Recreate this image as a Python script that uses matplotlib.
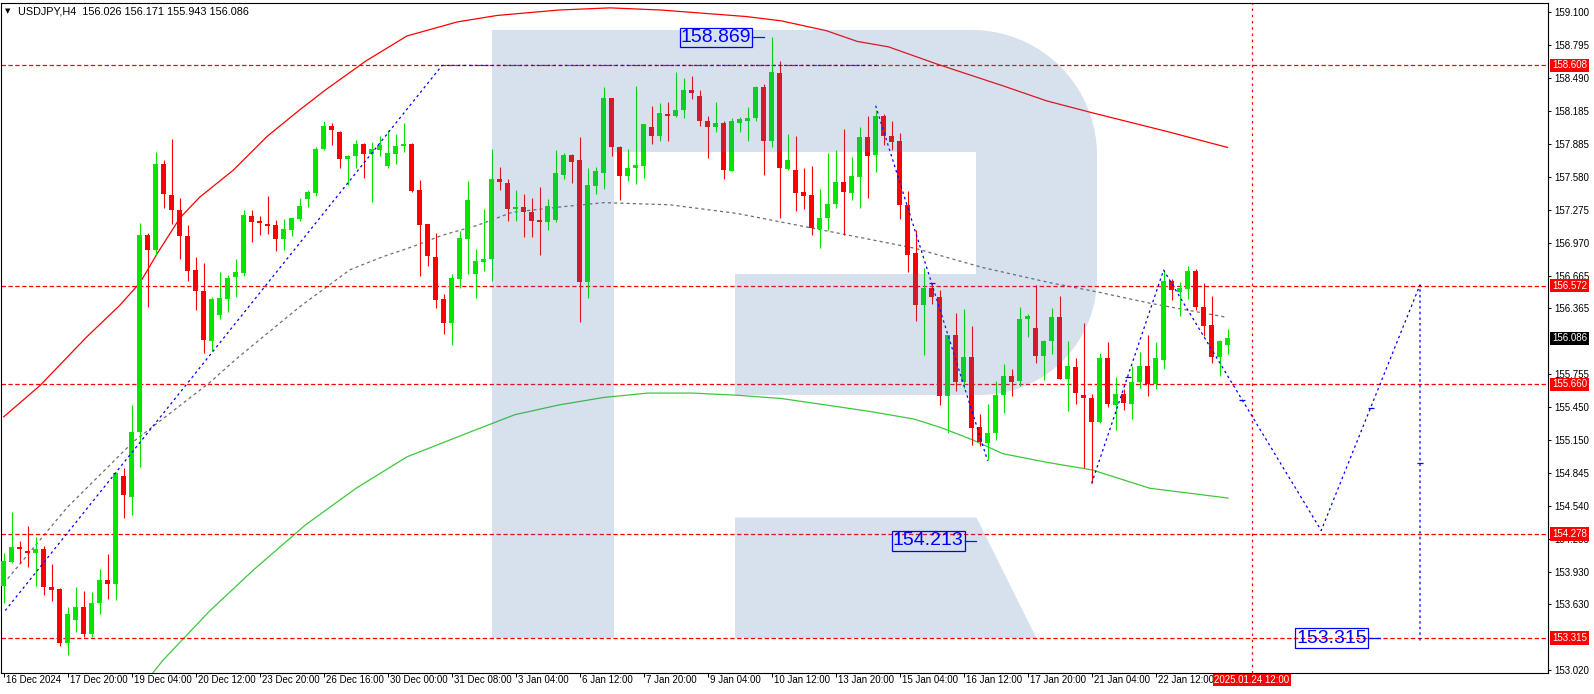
import numpy as np
import matplotlib
matplotlib.use('Agg')
import matplotlib.pyplot as plt
from matplotlib import font_manager
from matplotlib.patches import Polygon

plt.rcParams['font.family'] = ['Liberation Sans', 'DejaVu Sans']

# USDJPY H4 bars, first bar 16 Dec 2024 12:00, last bar 24 Jan 2025 00:00
opens = [153.80, 154.02, 154.16, 154.12, 154.10, 154.14, 153.79, 153.77, 153.27, 153.48,
         153.60, 153.35, 153.64, 153.85, 153.82, 154.81, 154.62, 155.22, 157.04, 156.90,
         157.70, 157.41, 157.27, 157.03, 156.72, 156.52, 156.06, 156.30, 156.45, 156.65,
         156.69, 157.22, 157.17, 157.14, 157.13, 157.00, 157.09, 157.19, 157.37, 157.43,
         157.84, 158.05, 157.99, 157.74, 157.77, 157.88, 157.79, 157.83, 157.68, 157.79,
         157.86, 157.88, 157.455, 157.14, 156.84, 156.45, 156.23, 156.63, 157.00, 156.68,
         156.79, 156.82, 157.56, 157.52, 157.28, 157.30, 157.25, 157.18, 157.16, 157.18,
         157.60, 157.78, 157.73, 156.61, 157.49, 157.61, 158.31, 157.85, 157.59, 157.66,
         157.68, 158.04, 157.96, 158.16, 158.14, 158.20, 158.38, 158.33, 158.09, 158.04,
         158.08, 157.63, 158.08, 158.09, 158.12, 158.41, 157.91, 158.54, 157.65, 157.64,
         157.44, 157.41, 157.10, 157.20, 157.33, 157.53, 157.43, 157.58, 157.95, 157.78,
         158.14, 157.96, 157.91, 157.32, 156.87, 156.39, 156.55, 156.47, 155.55, 156.12,
         155.68, 155.91, 155.27, 155.12, 155.21, 155.56, 155.74, 155.69, 156.26, 156.18,
         155.92, 156.06, 156.28, 155.71, 155.82, 155.56, 155.53, 155.31, 155.90, 155.47,
         155.57, 155.48, 155.68, 155.83, 155.66, 155.89, 156.62, 156.51, 156.54, 156.71,
         156.38, 156.21, 155.91, 156.026]
highs = [154.10, 154.48, 154.21, 154.35, 154.25, 154.17, 154.00, 153.78, 153.60, 153.79,
         153.75, 153.74, 153.95, 154.09, 154.85, 154.89, 155.47, 157.15, 157.06, 157.81,
         157.73, 157.93, 157.38, 157.13, 156.84, 156.78, 156.47, 156.70, 156.67, 156.82,
         157.27, 157.27, 157.22, 157.40, 157.18, 157.19, 157.20, 157.38, 157.46, 157.85,
         158.09, 158.08, 158.00, 157.78, 157.92, 157.89, 157.90, 157.96, 158.01, 157.97,
         158.08, 157.89, 157.55, 157.14, 157.06, 156.50, 156.68, 157.08, 157.54, 156.91,
         157.28, 157.84, 157.67, 157.56, 157.46, 157.42, 157.38, 157.48, 157.37, 157.83,
         157.80, 157.79, 157.95, 157.66, 157.67, 158.41, 158.31, 157.86, 157.84, 158.42,
         158.07, 158.23, 158.26, 158.27, 158.55, 158.49, 158.51, 158.38, 158.14, 158.27,
         158.09, 158.12, 158.13, 158.22, 158.42, 158.44, 158.869, 158.65, 157.97, 157.96,
         157.66, 157.68, 157.47, 157.80, 157.83, 158.02, 157.76, 158.04, 158.14, 158.20,
         158.16, 158.09, 157.98, 157.45, 157.09, 156.74, 156.60, 156.53, 156.12, 156.32,
         156.36, 156.20, 155.39, 155.48, 155.69, 155.85, 155.80, 156.38, 156.31, 156.58,
         156.07, 156.37, 156.48, 156.06, 155.90, 156.23, 155.57, 155.95, 156.05, 155.73,
         155.62, 155.83, 155.96, 156.12, 156.05, 156.72, 156.63, 156.61, 156.75, 156.73,
         156.60, 156.48, 156.07, 156.171]
lows = [153.64, 154.01, 154.01, 153.97, 153.80, 153.71, 153.66, 153.24, 153.16, 153.37,
        153.33, 153.33, 153.54, 153.68, 153.67, 154.43, 154.45, 154.90, 156.38, 156.86,
        157.29, 157.14, 156.82, 156.62, 156.35, 155.95, 155.97, 156.26, 156.33, 156.47,
        156.66, 156.98, 157.04, 157.05, 156.89, 156.90, 157.03, 157.17, 157.30, 157.40,
        157.83, 157.87, 157.66, 157.50, 157.66, 157.57, 157.35, 157.77, 157.66, 157.70,
        157.81, 157.44, 156.66, 156.75, 156.37, 156.13, 156.02, 156.55, 156.68, 156.46,
        156.71, 156.62, 157.46, 157.17, 157.17, 157.02, 157.02, 156.86, 157.09, 157.16,
        157.56, 157.52, 156.24, 156.46, 157.42, 157.47, 157.77, 157.36, 157.54, 157.51,
        157.57, 157.88, 157.91, 157.91, 158.13, 158.12, 158.30, 158.05, 157.75, 157.99,
        157.56, 157.63, 157.99, 157.91, 158.09, 157.60, 157.85, 157.20, 157.64, 157.26,
        157.28, 157.04, 156.92, 157.09, 157.29, 157.04, 157.36, 157.29, 157.38, 157.62,
        157.87, 157.83, 157.19, 156.70, 156.25, 155.93, 156.40, 155.47, 155.21, 155.60,
        155.63, 155.10, 155.09, 154.96, 155.15, 155.40, 155.55, 155.65, 156.10, 155.86,
        155.70, 155.94, 155.71, 155.41, 155.48, 154.89, 154.745, 155.30, 155.45, 155.24,
        155.42, 155.34, 155.63, 155.55, 155.62, 155.80, 156.44, 156.29, 156.45, 156.35,
        156.11, 155.86, 155.74, 155.943]
closes = [154.03, 154.16, 154.14, 154.10, 154.14, 153.79, 153.76, 153.27, 153.54, 153.60,
          153.35, 153.64, 153.85, 153.82, 154.84, 154.64, 155.22, 157.04, 156.90, 157.70,
          157.42, 157.27, 157.03, 156.71, 156.52, 156.07, 156.45, 156.46, 156.64, 156.70,
          157.23, 157.16, 157.155, 157.127, 157.00, 157.10, 157.20, 157.31, 157.44, 157.84,
          158.05, 158.01, 157.74, 157.77, 157.88, 157.79, 157.84, 157.87, 157.80, 157.86,
          157.88, 157.45, 157.13, 156.85, 156.44, 156.23, 156.64, 157.01, 157.36, 156.80,
          156.82, 157.56, 157.53, 157.28, 157.30, 157.25, 157.17, 157.16, 157.31, 157.61,
          157.78, 157.72, 156.61, 157.50, 157.63, 158.31, 157.85, 157.59, 157.66, 157.69,
          158.07, 157.96, 158.17, 158.14, 158.20, 158.38, 158.35, 158.09, 158.04, 158.08,
          157.64, 158.09, 158.11, 158.12, 158.41, 157.91, 158.55, 157.66, 157.73, 157.43,
          157.40, 157.11, 157.20, 157.33, 157.53, 157.44, 157.59, 157.95, 157.77, 158.14,
          157.96, 157.90, 157.32, 156.86, 156.39, 156.55, 156.47, 155.55, 156.12, 155.68,
          155.91, 155.26, 155.13, 155.21, 155.56, 155.74, 155.68, 156.26, 156.29, 155.92,
          156.06, 156.28, 155.71, 155.83, 155.58, 155.53, 155.31, 155.90, 155.48, 155.57,
          155.49, 155.68, 155.83, 155.66, 155.90, 156.62, 156.53, 156.55, 156.71, 156.38,
          156.20, 155.91, 156.06, 156.086]

# one time label every 8 bars
date_labels = ['16 Dec 2024', '17 Dec 20:00', '19 Dec 04:00', '20 Dec 12:00', '23 Dec 20:00',
               '26 Dec 16:00', '30 Dec 00:00', '31 Dec 08:00', '3 Jan 04:00', '6 Jan 12:00',
               '7 Jan 20:00', '9 Jan 04:00', '10 Jan 12:00', '13 Jan 20:00', '15 Jan 04:00',
               '16 Jan 12:00', '17 Jan 20:00', '21 Jan 04:00', '22 Jan 12:00']

# envelope / moving average lines (bar index, price)
red_i = [0, 4.55, 10.4, 14.5, 17.05, 19.2, 22.05, 24.5, 28.7, 32.9, 37.05, 40.2, 45.3, 50.4, 56.7,
         61.7, 69.4, 75.8, 82.2, 92.8, 97.2, 102.8, 106.7, 110.6, 116.7, 124.9, 130.4, 136.1, 145.3, 153]
red_p = [155.36, 155.65, 156.10, 156.39, 156.60, 156.87, 157.20, 157.39, 157.64, 157.95, 158.20, 158.38,
         158.65, 158.88, 159.01, 159.07, 159.12, 159.14, 159.12, 159.06, 159.02, 158.93, 158.83, 158.78,
         158.62, 158.42, 158.28, 158.17, 158.00, 157.85]
gray_i = [0, 7.9, 16.2, 25.8, 29.3, 37.05, 43.3, 47.4, 51.0, 54.9, 59.2, 63.55, 69.55, 75.05, 83.3,
          91.7, 102.8, 113.8, 122.4, 130.8, 137.05, 143.3, 152.9]
gray_p = [153.82, 154.52, 155.13, 155.68, 155.91, 156.38, 156.72, 156.84, 156.93, 157.04, 157.13,
          157.25, 157.30, 157.34, 157.32, 157.24, 157.08, 156.92, 156.74, 156.60, 156.51, 156.41, 156.28]
green_i = [18.4, 19.9, 25.8, 31.3, 37.7, 44.05, 50.4, 58.3, 63.9, 69.4, 75.05, 80.55, 86.05, 91.7,
           97.2, 102.8, 108.3, 113.8, 117.2, 121.05, 124.9, 130.4, 136.05, 143.3, 153.05]
green_p = [152.97, 153.11, 153.57, 153.95, 154.36, 154.70, 154.99, 155.22, 155.38, 155.47, 155.54,
           155.58, 155.58, 155.56, 155.53, 155.47, 155.41, 155.34, 155.26, 155.15, 155.02, 154.94,
           154.87, 154.70, 154.61]

# blue trend line and wave forecast
trend_i = [0.2, 54.8, 109.4]
trend_p = [153.57, 158.608, 158.608]
wave1_i = [109, 123]
wave1_p = [158.236, 154.955]
wave2_i = [136, 145, 164.7, 177.05, 177.05]
wave2_p = [154.745, 156.717, 154.31, 156.58, 153.28]

levels = [158.608, 156.572, 155.660, 154.278, 153.315]
price_ticks = [159.100, 158.795, 158.490, 158.185, 157.885, 157.580, 157.275, 156.970, 156.665,
               156.365, 155.755, 155.450, 155.150, 154.845, 154.540, 154.235, 153.930,
               153.630, 153.020]
ann_price = [158.869, 154.213, 153.315]
ann_end = [95.05, 121.6, 172.0]
vline_i = 156
vline_label = '2025.01.24 12:00'

GREEN = '#00e600'
RED = '#ff0000'
BLUE = '#0000ff'

W, H = 1594, 694
X0, X1, Y0, Y1 = 1, 1548, 3, 673   # plot frame in pixels

fig = plt.figure(figsize=(W / 100, H / 100), dpi=100)
ax = fig.add_axes([X0 / W, 1 - Y1 / H, (X1 - X0) / W, (Y1 - Y0) / H])
ax.set_xlim(-0.33, 193.05)
ax.set_ylim(152.993, 159.185)

# candles
idx = np.arange(len(opens))
o, h, l, c = map(np.array, (opens, highs, lows, closes))
cols = np.where(c >= o, GREEN, RED)
ax.vlines(idx, l, h, colors=cols, lw=0.8, zorder=3)
ax.bar(idx, np.maximum(np.abs(c - o), 0.01), bottom=np.minimum(o, c), width=0.62,
       color=cols, lw=0, zorder=4)

# indicator lines
ax.plot(red_i, red_p, color=RED, lw=0.9, zorder=2)
ax.plot(green_i, green_p, color='#3cc83c', lw=0.9, zorder=2)
ax.plot(gray_i, gray_p, color='#6e6e6e', lw=0.9, ls=(0, (2.5, 2.5)), zorder=2)

for lv in levels:
    ax.axhline(lv, color=RED, lw=0.9, ls=(0, (3.5, 2)), zorder=2)
ax.axvline(vline_i, color=RED, lw=0.9, ls=(0, (2, 3)), zorder=2)

# blue lines
for xs, ys in ((trend_i, trend_p), (wave1_i, wave1_p), (wave2_i, wave2_p)):
    ax.plot(xs, ys, color=BLUE, lw=0.9, ls=(0, (2, 2.5)), zorder=5)
for xs, ys in ((wave1_i, wave1_p), (wave2_i, wave2_p)):
    mx = (np.array(xs[:-1]) + np.array(xs[1:])) / 2
    my = (np.array(ys[:-1]) + np.array(ys[1:])) / 2
    ax.plot(mx, my, ls='none', marker='_', ms=5, mew=0.9, color=BLUE, zorder=5)

# price labels in blue boxes
names = {f.name for f in font_manager.fontManager.ttflist}
if 'Liberation Sans Narrow' in names:
    big_font, big_size = 'Liberation Sans Narrow', 17
else:
    big_font, big_size = 'Liberation Sans', 14
for pv, end in zip(ann_price, ann_end):
    ax.plot([end - 1.45, end], [pv, pv], color=BLUE, lw=0.9, zorder=6)
    ax.text(end - 1.6, pv, f'{pv:.3f}', ha='right', va='center', color=BLUE,
            fontsize=big_size, family=big_font, zorder=9,
            bbox=dict(boxstyle='square,pad=0.06', fc='none', ec=BLUE, lw=0.9))


# watermark "R" (pixel outline -> axes fraction)
def px(pts):
    return [((x - X0) / (X1 - X0), (Y1 - y) / (Y1 - Y0)) for x, y in pts]


t1 = np.linspace(np.pi / 2, 0, 24)
t2 = np.linspace(0, -np.pi / 2, 24)
body = ([(492, 30), (972, 30)]
        + [(972 + 125 * np.cos(t), 155 - 125 * np.sin(t)) for t in t1]
        + [(980 + 117 * np.cos(t), 278 - 117 * np.sin(t)) for t in t2]
        + [(735, 395), (735, 274), (976, 274), (976, 152), (614, 152), (614, 638), (492, 638)])
leg = [(735, 517.5), (976.5, 517.5), (1036.4, 638), (735, 638)]
for shape in (body, leg):
    ax.add_patch(Polygon(px(shape), closed=True, transform=ax.transAxes,
                         fc='#4d72ae', alpha=0.22, ec='none', zorder=8))

# axes styling
for sp in ax.spines.values():
    sp.set_linewidth(0.8)
    sp.set_color('black')
ax.yaxis.tick_right()
ax.set_yticks(price_ticks)
ax.set_yticklabels([f'{v:.3f}' for v in price_ticks])
ax.tick_params(axis='y', length=2.2, width=0.7, pad=2.5, labelsize=7, colors='black')
ax.set_xticks(np.arange(len(date_labels)) * 8)
ax.tick_params(axis='x', length=3, width=0.7, labelbottom=False)

xtr = ax.get_xaxis_transform()
for k, lab in enumerate(date_labels):
    ax.text(k * 8 + 0.25, -2 / (Y1 - Y0), lab, transform=xtr, ha='left', va='top',
            fontsize=7, clip_on=False)
ax.text(vline_i, -2 / (Y1 - Y0), vline_label, transform=xtr, ha='center', va='top',
        fontsize=7, color='white', clip_on=False, zorder=20,
        bbox=dict(boxstyle='square,pad=0.15', fc=RED, ec='none'))

ytr = ax.get_yaxis_transform()
for lv, bg in [(v, RED) for v in levels] + [(closes[-1], 'black')]:
    ax.text(1 + 4 / (X1 - X0), lv, f'{lv:.3f}', transform=ytr, ha='left', va='center',
            fontsize=7, color='white', clip_on=False, zorder=20,
            bbox=dict(boxstyle='square,pad=0.18', fc=bg, ec='none'))

# header
fig.text(5 / W, 1 - 11 / H, '\u25bc', fontsize=5, family='DejaVu Sans', va='center')
fig.text(18 / W, 1 - 11 / H,
         f'USDJPY,H4  {opens[-1]:.3f} {highs[-1]:.3f} {lows[-1]:.3f} {closes[-1]:.3f}',
         fontsize=7.8, va='center')

fig.savefig('out.png', dpi=100, facecolor='white')
